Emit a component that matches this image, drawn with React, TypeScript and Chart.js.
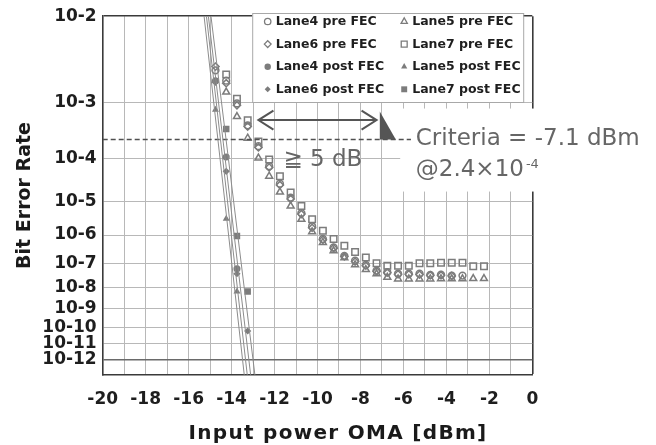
import React, { useEffect, useRef } from 'react';
import { Chart, registerables } from 'chart.js';
import { drawPoint } from 'chart.js/helpers';

Chart.register(...registerables);

// ---------- data ----------
const preX = [-14.75, -14.25, -13.75, -13.25, -12.75, -12.25, -11.75, -11.25, -10.75, -10.25, -9.75, -9.25, -8.75, -8.25, -7.75, -7.25, -6.75, -6.25, -5.75, -5.25, -4.75, -4.25, -3.75, -3.25, -2.75, -2.25];
const lane4Pre = [2.7e-3, 2.0e-3, 9.6e-4, 4.3e-4, 1.8e-4, 7.0e-5, 2.8e-5, 1.25e-5, 4.7e-6, 1.9e-6, 7.4e-7, 3.8e-7, 1.9e-7, 1.26e-7, 8.6e-8, 5.1e-8, 4.4e-8, 3.8e-8, 3.8e-8, 3.8e-8, 3.4e-8, 3.5e-8, 3.2e-8, 3.2e-8, null, null];
const lane5Pre = [null, 1.4e-3, 6.0e-4, 2.55e-4, 1.04e-4, 4.2e-5, 1.73e-5, 7.4e-6, 3.1e-6, 1.27e-6, 5.7e-7, 2.9e-7, 1.6e-7, 8.7e-8, 5.6e-8, 3.8e-8, 2.7e-8, 2.3e-8, 2.3e-8, 2.3e-8, 2.3e-8, 2.35e-8, 2.35e-8, 2.35e-8, 2.4e-8, 2.4e-8];
const lane6Pre = [3.0e-3, 1.85e-3, 9.0e-4, 4.1e-4, 1.7e-4, 6.6e-5, 2.6e-5, 1.15e-5, 4.4e-6, 1.7e-6, 7.0e-7, 3.6e-7, 1.8e-7, 1.15e-7, 8.0e-8, 4.8e-8, 4.2e-8, 3.6e-8, 3.6e-8, 3.5e-8, 3.3e-8, 3.3e-8, 3.1e-8, null, null, null];
const lane7Pre = [null, 2.4e-3, 1.13e-3, 5.2e-4, 2.2e-4, 9.7e-5, 4.2e-5, 1.7e-5, 7.4e-6, 3.1e-6, 1.37e-6, 7.4e-7, 4.4e-7, 2.6e-7, 1.65e-7, 9.9e-8, 7.9e-8, 7.9e-8, 7.9e-8, 9.9e-8, 9.9e-8, 1.05e-7, 1.05e-7, 1.05e-7, 7.6e-8, 7.6e-8];

const postX = [-14.75, -14.25, -13.75, -13.25];
const lane4Post = [2.0e-3, 1.1e-4, 6.0e-8, null];
const lane5Post = [7.7e-4, 3.2e-6, 6.5e-9, null];
const lane6Post = [1.9e-3, 5.4e-5, 3.8e-8, 6.0e-11];
const lane7Post = [null, 3.7e-4, 9.4e-7, 6.5e-9];

// fitted lines (post FEC): x at BER = 1e-2 and at BER = 1e-14
const fitBER = [1e-2, 1e-14];
const fit4X = [-15.17, -13.21];
const fit5X = [-15.28, -13.35];
const fit6X = [-15.08, -13.05];
const fit7X = [-14.96, -12.85];

const criteriaBER = 2.4e-4;
const criteriaX = -7.1;
const criteriaLineX = [-20, -5.65];
const marginArrowX = [-12.75, -7.25];

const xTickMin = -20;
const xTickMax = 0;
const yTickExponents = [2, 3, 4, 5, 6, 7, 8, 9, 10, 11, 12];
const yBottomExponent = 13.1;

const legendLabels = ['Lane4 pre FEC', 'Lane5 pre FEC', 'Lane6 pre FEC', 'Lane7 pre FEC', 'Lane4 post FEC', 'Lane5 post FEC', 'Lane6 post FEC', 'Lane7 post FEC'];
const xTitle = 'Input power OMA [dBm]';
const yTitle = 'Bit Error Rate';

// ---------- helpers ----------
const toU = (ber: number) => Math.log10(-Math.log10(ber) - 0.5);
const expToU = (n: number) => Math.log10(n - 0.5);

const GRAY = '#7c7c7c';
const GRID = '#b8b8b8';
const DARK = '#3a3a3a';

const pts = (xs: number[], ys: (number | null)[]) =>
  xs.map((x, i) => (ys[i] == null ? null : { x, y: toU(ys[i] as number) })).filter(Boolean) as { x: number; y: number }[];

const markerSpecs = [
  { style: 'circle', filled: false, r: 3.4, lr: 3.2 },
  { style: 'triangle', filled: false, r: 4.0, lr: 3.6 },
  { style: 'rectRot', filled: false, r: 3.6, lr: 3.4 },
  { style: 'rect', filled: false, r: 4.6, lr: 4.2 },
  { style: 'circle', filled: true, r: 3.5, lr: 3.2 },
  { style: 'triangle', filled: true, r: 4.0, lr: 3.6 },
  { style: 'rectRot', filled: true, r: 3.6, lr: 3.0 },
  { style: 'rect', filled: true, r: 4.6, lr: 4.2 },
];

const FONT = 'DejaVu Sans';

const overlay = {
  id: 'overlay',
  beforeDatasetsDraw(chart: any) {
    const { ctx, scales } = chart;
    const yc = scales.y.getPixelForValue(toU(criteriaBER));
    const left = scales.x.getPixelForValue(-6.15);
    ctx.save();
    ctx.fillStyle = '#ffffff';
    ctx.fillRect(left, yc - 31, 260, 83);
    ctx.restore();
  },
  afterDraw(chart: any) {
    const { ctx, chartArea: ca, scales } = chart;
    const xs = scales.x;
    const ys = scales.y;
    const yc = ys.getPixelForValue(toU(criteriaBER));
    const xc = xs.getPixelForValue(criteriaX);
    ctx.save();

    // criteria triangle
    ctx.fillStyle = '#555555';
    ctx.beginPath();
    ctx.moveTo(xc, yc - 28);
    ctx.lineTo(xc, yc);
    ctx.lineTo(xc + 16, yc);
    ctx.closePath();
    ctx.fill();

    // double arrow
    const xa = xs.getPixelForValue(marginArrowX[0]);
    const xb = xs.getPixelForValue(marginArrowX[1]);
    const ya = yc - 19.5;
    ctx.strokeStyle = '#555555';
    ctx.lineWidth = 2;
    ctx.lineJoin = 'miter';
    ctx.beginPath();
    ctx.moveTo(xa, ya);
    ctx.lineTo(xb, ya);
    ctx.moveTo(xa + 15, ya - 9.5);
    ctx.lineTo(xa, ya);
    ctx.lineTo(xa + 15, ya + 9.5);
    ctx.moveTo(xb - 15, ya - 9.5);
    ctx.lineTo(xb, ya);
    ctx.lineTo(xb - 15, ya + 9.5);
    ctx.stroke();

    // annotation texts
    ctx.fillStyle = '#666666';
    ctx.textBaseline = 'alphabetic';
    ctx.textAlign = 'left';
    ctx.font = `23px "${FONT}"`;
    ctx.fillText('\u2267 5 dB', xa + 25, yc + 26);
    ctx.fillText('Criteria = -7.1 dBm', xc + 36, yc + 5);
    const t2 = '@2.4\u00d710';
    ctx.fillText(t2, xc + 36, yc + 36);
    const w2 = ctx.measureText(t2).width;
    ctx.font = `13px "${FONT}"`;
    ctx.fillText('-4', xc + 36 + w2 + 2, yc + 28);

    // legend
    const lx = ca.left + 149.5;
    const ly = 13;
    ctx.fillStyle = '#ffffff';
    ctx.fillRect(lx, ly, 271, 89);
    ctx.strokeStyle = '#a8a8a8';
    ctx.lineWidth = 1;
    ctx.strokeRect(lx + 0.5, ly + 0.5, 271, 89);
    ctx.font = `bold 12.5px "${FONT}"`;
    ctx.textBaseline = 'middle';
    legendLabels.forEach((label, i) => {
      const col = i % 2;
      const row = Math.floor(i / 2);
      const my = 21.5 + row * 22.6;
      const mx = col === 0 ? lx + 15.5 : lx + 152;
      const spec = markerSpecs[i];
      ctx.fillStyle = spec.filled ? GRAY : 'rgba(0,0,0,0)';
      ctx.strokeStyle = GRAY;
      ctx.lineWidth = spec.filled ? 0.01 : 1.3;
      drawPoint(ctx, { pointStyle: spec.style, radius: spec.lr, borderWidth: spec.filled ? 0 : 1.3, rotation: 0 } as any, mx, my);
      ctx.fillStyle = '#1e1e1e';
      ctx.fillText(label, mx + 8, my + 0.5);
    });

    // axis titles
    ctx.fillStyle = '#1a1a1a';
    ctx.font = `bold 20px "${FONT}"`;
    ctx.textAlign = 'center';
    ctx.textBaseline = 'alphabetic';
    (ctx as any).letterSpacing = '1.3px';
    ctx.fillText(xTitle, 338, 439);
    (ctx as any).letterSpacing = '0px';
    ctx.font = `bold 19px "${FONT}"`;
    ctx.save();
    ctx.translate(29.5, (ca.top + ca.bottom) / 2);
    ctx.rotate(-Math.PI / 2);
    ctx.fillText(yTitle, 0, 0);
    ctx.restore();

    ctx.restore();
  },
};

export default function App() {
  const ref = useRef<HTMLCanvasElement>(null);
  useEffect(() => {
    document.body.style.margin = '0';
    const canvas = ref.current as HTMLCanvasElement;

    const lineDs = (xs: number[]) => ({
      data: xs.map((x, i) => ({ x, y: toU(fitBER[i]) })),
      showLine: true,
      borderColor: '#8c8c8c',
      borderWidth: 1,
      pointRadius: 0,
    });

    const markerDs = (xs: number[], ys: (number | null)[], idx: number) => {
      const s = markerSpecs[idx];
      return {
        label: legendLabels[idx],
        data: pts(xs, ys),
        showLine: false,
        pointStyle: s.style,
        pointRadius: s.r,
        pointBorderWidth: s.filled ? 0 : 1.5,
        pointBorderColor: GRAY,
        pointBackgroundColor: s.filled ? GRAY : 'rgba(0,0,0,0)',
        borderColor: GRAY,
        backgroundColor: s.filled ? GRAY : 'rgba(0,0,0,0)',
      };
    };

    const datasets: any[] = [
      lineDs(fit4X),
      lineDs(fit5X),
      lineDs(fit6X),
      lineDs(fit7X),
      {
        data: criteriaLineX.map((x) => ({ x, y: toU(criteriaBER) })),
        showLine: true,
        borderColor: '#505050',
        borderWidth: 1.4,
        borderDash: [5, 3],
        pointRadius: 0,
      },
      markerDs(preX, lane4Pre, 0),
      markerDs(preX, lane5Pre, 1),
      markerDs(preX, lane6Pre, 2),
      markerDs(preX, lane7Pre, 3),
      markerDs(postX, lane4Post, 4),
      markerDs(postX, lane5Post, 5),
      markerDs(postX, lane6Post, 6),
      markerDs(postX, lane7Post, 7),
    ];

    const tickFont = { family: FONT, weight: 'bold' as const, size: 17 };

    const chart = new Chart(canvas, {
      type: 'scatter',
      data: { datasets },
      options: {
        animation: false,
        responsive: false,
        devicePixelRatio: 1,
        layout: { padding: { left: 0, right: 123.7, top: 14, bottom: 0 } },
        plugins: { legend: { display: false }, tooltip: { enabled: false } },
        scales: {
          x: {
            type: 'linear',
            min: xTickMin,
            max: xTickMax,
            afterFit: (s: any) => {
              s.height = 70.3;
            },
            ticks: {
              stepSize: 1,
              autoSkip: false,
              maxRotation: 0,
              padding: 15,
              color: '#1e1e1e',
              font: tickFont,
              callback: (v: any) => (Math.round(v) % 2 === 0 ? String(Math.round(v)) : ''),
            },
            grid: {
              drawTicks: false,
              color: (c: any) => (c.index === 20 ? DARK : GRID),
              lineWidth: (c: any) => (c.index === 20 ? 1.6 : 1),
            },
            border: { color: DARK, width: 1.6 },
          },
          y: {
            type: 'linear',
            reverse: true,
            min: expToU(yTickExponents[0]),
            max: expToU(yBottomExponent),
            afterFit: (s: any) => {
              s.width = 102.7;
            },
            afterBuildTicks: (s: any) => {
              s.ticks = yTickExponents.map((n) => ({ value: expToU(n) }));
            },
            ticks: {
              padding: 6,
              color: '#1e1e1e',
              font: tickFont,
              autoSkip: false,
              callback: (_v: any, i: number) => '10-' + yTickExponents[i],
            },
            grid: {
              drawTicks: false,
              color: (c: any) => (c.index === 0 ? DARK : c.index === 10 ? '#6a6a6a' : GRID),
              lineWidth: (c: any) => (c.index === 0 ? 1.6 : c.index === 10 ? 1.6 : 1),
            },
            border: { color: DARK, width: 1.6 },
          },
        },
      },
      plugins: [overlay],
    });
    return () => chart.destroy();
  }, []);
  return <canvas ref={ref} width={656} height={445} style={{ display: 'block' }} />;
}
